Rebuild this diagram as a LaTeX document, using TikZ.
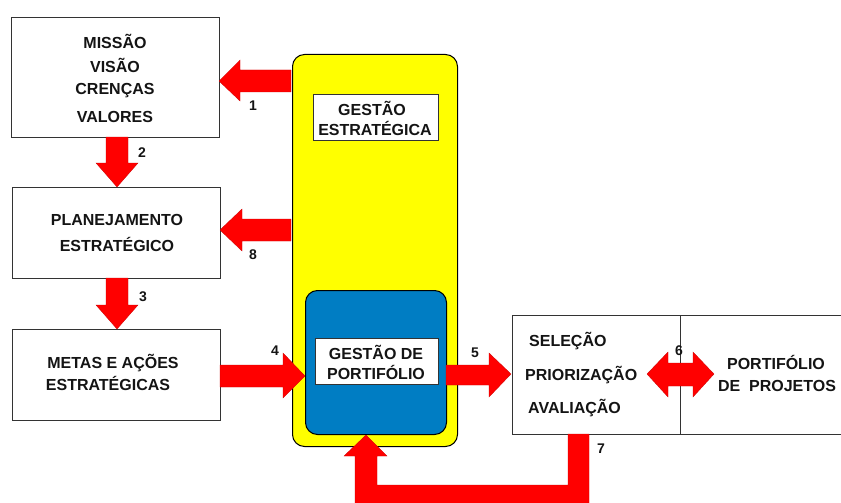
\documentclass[tikz,border=0pt]{standalone}
\usepackage{fontspec}
\setmainfont{Liberation Sans}
\usetikzlibrary{calc}
\definecolor{arrowred}{RGB}{255,0,0}
\definecolor{boxblue}{RGB}{0,125,195}
\definecolor{ylw}{RGB}{255,255,0}
\definecolor{txt}{RGB}{20,20,20}
\begin{document}
\begin{tikzpicture}[x=1pt,y=-1pt,
  box/.style={draw=black!80,line width=0.9pt,fill=white,anchor=north west,inner sep=0pt},
  lbl/.style={font=\fontsize{16}{20}\selectfont\bfseries,text=txt,align=center,inner sep=0pt},
  num/.style={font=\fontsize{14}{16}\selectfont\bfseries,text=txt,inner sep=0pt},
  blockarrow/.style={fill=arrowred,draw=arrowred!80!black,line width=0.3pt}]
\useasboundingbox (0,0) rectangle (841,503);
\fill[white] (0,0) rectangle (841,503);
% boxes
\node[box,minimum width=208pt,minimum height=120pt] (mis) at (11,17) {};
\node[box,minimum width=208pt,minimum height=91pt] (pla) at (12,187) {};
\node[box,minimum width=208pt,minimum height=91pt] (met) at (12,329) {};
\node[draw=black,line width=1pt,fill=ylw,rounded corners=12pt,anchor=north west,minimum width=165pt,minimum height=392pt,inner sep=0pt] (ges) at (292,54) {};
\node[draw=black,line width=1pt,fill=boxblue,rounded corners=12pt,anchor=north west,minimum width=141pt,minimum height=144pt,inner sep=0pt] (blu) at (305,290) {};
\node[box,minimum width=125pt,minimum height=46pt] (gesl) at (313,94) {};
\node[box,minimum width=123pt,minimum height=46pt] (port) at (315,338) {};
\node[box,minimum width=340pt,minimum height=119pt] (sel) at (512,315) {};
\draw[black!80,line width=0.9pt] (680,315) coordinate (dv1) -- (680,434) coordinate (dv2);
% texts
\node[lbl] (t1) at (115,41) {MISSÃO};
\node[lbl] (t2) at (115,65) {VISÃO};
\node[lbl] (t3) at (115,91) {CRENÇAS};
\node[lbl] (t4) at (115,117) {VALORES};
\node[lbl] (t5) at (117,220) {PLANEJAMENTO};
\node[lbl] (t6) at (117,244) {ESTRATÉGICO};
\node[lbl] (t7) at (113,363) {METAS E AÇÕES};
\node[lbl] (t8) at (108,383) {ESTRATÉGICAS};
\node[lbl] (t9) at (372,108) {GESTÃO};
\node[lbl] (t10) at (375,128) {ESTRATÉGICA};
\node[lbl] (t11) at (376,352) {GESTÃO DE};
\node[lbl] (t12) at (376,372) {PORTIFÓLIO};
\node[lbl,anchor=west] (t13) at (529,341) {SELEÇÃO};
\node[lbl,anchor=west] (t14) at (525,375) {PRIORIZAÇÃO};
\node[lbl,anchor=west] (t15) at (528,408) {AVALIAÇÃO};
\node[lbl] (t16) at (776,362) {PORTIFÓLIO};
\node[lbl] (t17) at (777,386) {DE\ \ PROJETOS};
% arrows
\fill[blockarrow] (291,70) -- (240,70) -- (240,60) -- (219,81) -- (240,101) -- (240,92) -- (291,92) -- cycle;
\fill[blockarrow] (291,219) -- (242,219) -- (242,209) -- (220,230) -- (242,251) -- (242,241) -- (291,241) -- cycle;
\fill[blockarrow] (106,137) -- (106,163) -- (96,163) -- (117,187) -- (138,163) -- (128,163) -- (128,137) -- cycle;
\fill[blockarrow] (106,278) -- (106,305) -- (96,305) -- (117,329) -- (138,305) -- (128,305) -- (128,278) -- cycle;
\fill[blockarrow] (220,365) -- (283,365) -- (283,353) -- (305,376) -- (283,398) -- (283,387) -- (220,387) -- cycle;
\fill[blockarrow] (446,365) -- (489,365) -- (489,353) -- (511,374) -- (489,397) -- (489,385) -- (446,385) -- cycle;
\fill[blockarrow] (647,374) -- (668,352) -- (668,363) -- (693,363) -- (693,352) -- (714,374) -- (693,397) -- (693,386) -- (668,386) -- (668,397) -- cycle;
\fill[blockarrow] (568,434) -- (568,485) -- (377,485) -- (377,456) -- (387,456) -- (366,435) -- (344,456) -- (355,456) -- (355,508) -- (589,508) -- (589,434) -- cycle;
% numbers
\node[num] (n1) at (253,106) {1};
\node[num] (n2) at (142,153) {2};
\node[num] (n3) at (143,297) {3};
\node[num] (n4) at (275,351) {4};
\node[num] (n5) at (475,353) {5};
\node[num] (n6) at (679,351) {6};
\node[num] (n7) at (601,449) {7};
\node[num] (n8) at (253,255) {8};
\end{tikzpicture}
\end{document}
